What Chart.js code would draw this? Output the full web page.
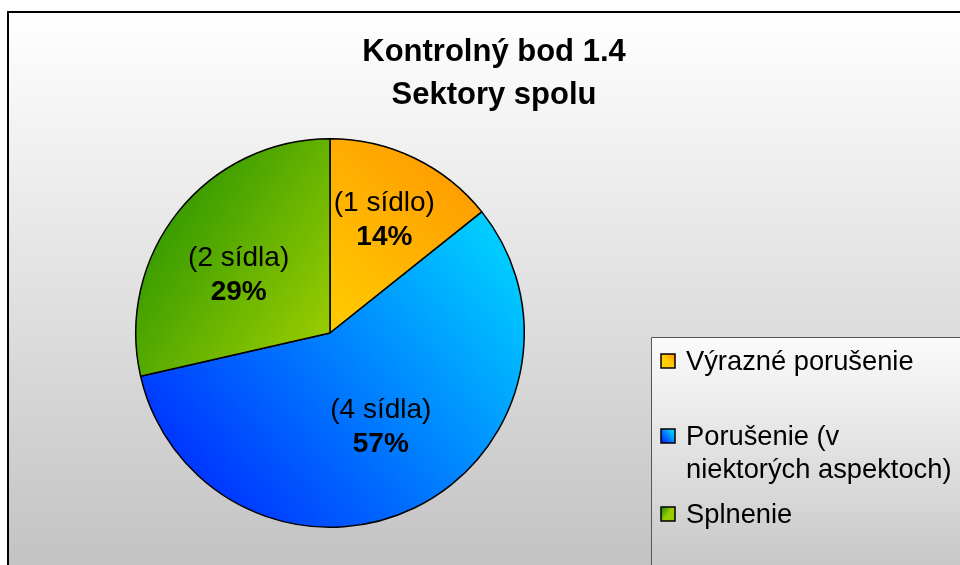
<!DOCTYPE html>
<html>
<head>
<meta charset="utf-8">
<script src="https://cdn.jsdelivr.net/npm/chart.js@4.4.1/dist/chart.umd.min.js"></script>
<style>
    html, body { margin: 0; padding: 0; background: #fff; }
    canvas { display: block; }
</style>
</head>
<body>
<canvas id="pieChart" width="960" height="565"></canvas>
<script>
// chart data
const titleLines = ['Kontrolný bod 1.4', 'Sektory spolu'];
const categories = ['Výrazné porušenie', 'Porušenie (v niektorých aspektoch)', 'Splnenie'];
const legendLines = [['Výrazné porušenie'], ['Porušenie (v', 'niektorých aspektoch)'], ['Splnenie']];
const sidlaCounts = [1, 4, 2];
const sidlaLabels = ['(1 sídlo)', '(4 sídla)', '(2 sídla)'];

// gradient stops per slice: [from, to] and direction as fractions of the pie box
const sliceStops = [
    ['#ffcc00', '#ff9900'],
    ['#0033ff', '#00ccff'],
    ['#339900', '#99cc00']
];
const sliceDirs = [
    [0.5, 0.5, 0.9, 0.1],
    [0.2, 0.95, 0.95, 0.3],
    [0.05, 0.2, 0.5, 0.5]
];
// label placement inside each slice: [fraction of sweep, fraction of radius]
const labelPlace = [[0.5, 0.645], [0.487, 0.55], [0.44, 0.557]];

const FONT = '"Liberation Sans", Arial, sans-serif';

function sliceGradient(ctx, index, box) {
    const d = sliceDirs[index];
    const g = ctx.createLinearGradient(
        box.left + d[0] * box.width, box.top + d[1] * box.height,
        box.left + d[2] * box.width, box.top + d[3] * box.height);
    g.addColorStop(0, sliceStops[index][0]);
    g.addColorStop(1, sliceStops[index][1]);
    return g;
}

const backgroundPlugin = {
    id: 'chartBackground',
    beforeDraw(chart) {
        const ctx = chart.ctx;
        ctx.save();
        ctx.fillStyle = '#ffffff';
        ctx.fillRect(0, 0, chart.width, chart.height);
        const g = ctx.createLinearGradient(0, 12, 0, 565);
        g.addColorStop(0, '#ffffff');
        g.addColorStop(1, '#c3c3c3');
        ctx.fillStyle = g;
        ctx.fillRect(8, 12, chart.width - 8, chart.height - 12);
        ctx.strokeStyle = '#000';
        ctx.lineWidth = 2;
        ctx.beginPath();
        ctx.moveTo(8, chart.height);
        ctx.lineTo(8, 12);
        ctx.lineTo(chart.width, 12);
        ctx.stroke();

        ctx.fillStyle = '#000';
        ctx.textAlign = 'center';
        ctx.textBaseline = 'middle';
        ctx.font = 'bold 31px ' + FONT;
        ctx.fillText(titleLines[0], 494, 52);
        ctx.fillText(titleLines[1], 494, 95);
        ctx.restore();
    }
};

const labelPlugin = {
    id: 'sliceLabels',
    afterDatasetsDraw(chart) {
        const ctx = chart.ctx;
        const meta = chart.getDatasetMeta(0);
        const total = sidlaCounts.reduce((a, b) => a + b, 0);
        ctx.save();
        ctx.fillStyle = '#000';
        ctx.textAlign = 'center';
        ctx.textBaseline = 'middle';
        meta.data.forEach((arc, i) => {
            const p = arc.getProps(['x', 'y', 'startAngle', 'endAngle', 'outerRadius']);
            const ang = p.startAngle + (p.endAngle - p.startAngle) * labelPlace[i][0];
            const r = p.outerRadius * labelPlace[i][1];
            const x = p.x + Math.cos(ang) * r;
            const y = p.y + Math.sin(ang) * r;
            ctx.font = '28px ' + FONT;
            ctx.fillText(sidlaLabels[i], x, y - 17);
            ctx.font = 'bold 28px ' + FONT;
            ctx.fillText(Math.round(sidlaCounts[i] / total * 100) + '%', x, y + 17);
        });
        ctx.restore();
    }
};

const legendPlugin = {
    id: 'boxLegend',
    afterDraw(chart) {
        const ctx = chart.ctx;
        const left = 651, top = 337;
        ctx.save();
        const g = ctx.createLinearGradient(0, top, 0, chart.height);
        g.addColorStop(0, '#fbfbfb');
        g.addColorStop(1, '#c8c8c8');
        ctx.fillStyle = g;
        ctx.fillRect(left, top, chart.width - left, chart.height - top);
        ctx.strokeStyle = '#555';
        ctx.lineWidth = 1;
        ctx.beginPath();
        ctx.moveTo(left + 0.5, chart.height);
        ctx.lineTo(left + 0.5, top + 0.5);
        ctx.lineTo(chart.width, top + 0.5);
        ctx.stroke();

        const rows = [361, 436, 514];
        ctx.font = '27.3px ' + FONT;
        ctx.textAlign = 'left';
        ctx.textBaseline = 'middle';
        categories.forEach((cat, i) => {
            const y = rows[i];
            const box = { left: 661, top: y - 7, width: 14, height: 14 };
            ctx.fillStyle = sliceGradient(ctx, i, box);
            ctx.fillRect(box.left, box.top, box.width, box.height);
            ctx.strokeStyle = '#000';
            ctx.lineWidth = 1.5;
            ctx.strokeRect(box.left, box.top, box.width, box.height);
            ctx.fillStyle = '#000';
            legendLines[i].forEach((line, j) => {
                ctx.fillText(line, 686, y + 1 + j * 33);
            });
        });
        ctx.restore();
    }
};

const ctx = document.getElementById('pieChart').getContext('2d');
new Chart(ctx, {
    type: 'pie',
    data: {
        labels: categories,
        datasets: [{
            data: sidlaCounts,
            backgroundColor(c) {
                const area = c.chart.chartArea;
                if (!area) return sliceStops[c.dataIndex][0];
                return sliceGradient(c.chart.ctx, c.dataIndex, area);
            },
            borderColor: '#000',
            borderWidth: 1.5
        }]
    },
    options: {
        responsive: false,
        animation: false,
        events: [],
        layout: { padding: { left: 135, top: 138, right: 435, bottom: 37 } },
        plugins: {
            legend: { display: false },
            tooltip: { enabled: false },
            title: { display: false }
        }
    },
    plugins: [backgroundPlugin, labelPlugin, legendPlugin]
});
</script>
</body>
</html>
